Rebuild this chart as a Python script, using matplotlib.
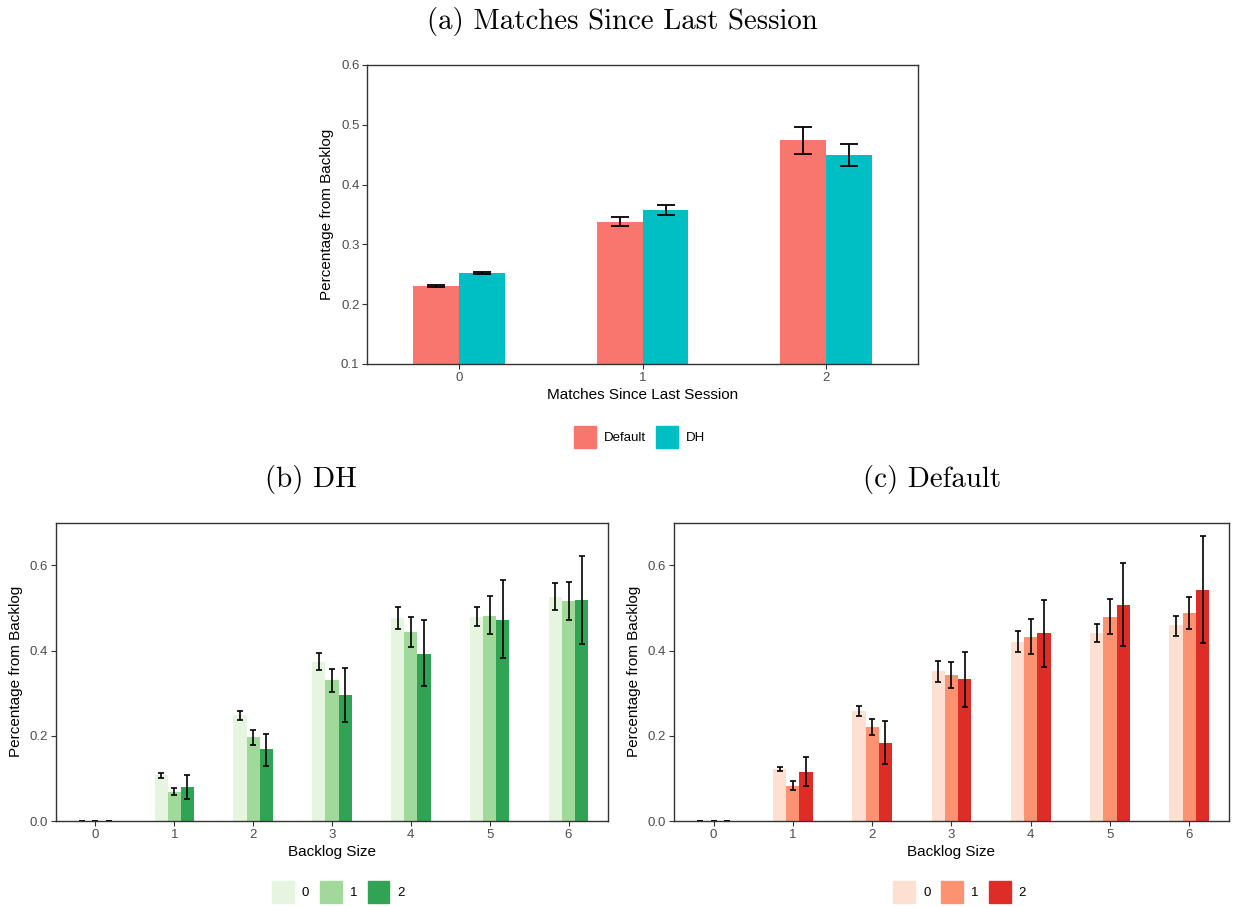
import matplotlib
matplotlib.use("Agg")
import matplotlib.pyplot as plt
from matplotlib.patches import Patch
import numpy as np

plt.rcParams['font.family'] = ['Liberation Sans', 'DejaVu Sans']

# (a) share from backlog by matches since last session
matches = ['0', '1', '2']
default_mean = [0.230, 0.337, 0.475]
default_lo = [0.228, 0.331, 0.451]
default_hi = [0.232, 0.345, 0.497]
dh_mean = [0.252, 0.358, 0.450]
dh_lo = [0.250, 0.349, 0.431]
dh_hi = [0.254, 0.365, 0.468]

# (b), (c) share from backlog by backlog size, one series per match count
backlog = ['0', '1', '2', '3', '4', '5', '6']
groups = ['0', '1', '2']

dh_vals = [
    [0.0, 0.108, 0.248, 0.374, 0.477, 0.479, 0.526],
    [0.0, 0.068, 0.196, 0.330, 0.444, 0.482, 0.517],
    [0.0, 0.080, 0.168, 0.295, 0.393, 0.472, 0.519],
]
dh_lo_b = [
    [0.0, 0.102, 0.236, 0.355, 0.450, 0.458, 0.495],
    [0.0, 0.061, 0.179, 0.302, 0.409, 0.438, 0.471],
    [0.0, 0.052, 0.130, 0.232, 0.316, 0.382, 0.416],
]
dh_hi_b = [
    [0.0, 0.112, 0.259, 0.394, 0.503, 0.503, 0.559],
    [0.0, 0.077, 0.214, 0.356, 0.478, 0.528, 0.562],
    [0.0, 0.108, 0.205, 0.359, 0.472, 0.566, 0.621],
]

def_vals = [
    [0.0, 0.122, 0.258, 0.352, 0.420, 0.441, 0.459],
    [0.0, 0.082, 0.220, 0.342, 0.431, 0.478, 0.488],
    [0.0, 0.115, 0.183, 0.333, 0.441, 0.506, 0.541],
]
def_lo_b = [
    [0.0, 0.117, 0.246, 0.327, 0.396, 0.420, 0.435],
    [0.0, 0.073, 0.201, 0.313, 0.393, 0.438, 0.451],
    [0.0, 0.082, 0.133, 0.268, 0.361, 0.410, 0.417],
]
def_hi_b = [
    [0.0, 0.127, 0.271, 0.376, 0.445, 0.463, 0.481],
    [0.0, 0.094, 0.239, 0.373, 0.473, 0.521, 0.526],
    [0.0, 0.150, 0.234, 0.396, 0.519, 0.605, 0.669],
]

top_colors = ['#F8766D', '#00BFC4']
greens = ['#E5F5E0', '#A1D99B', '#31A354']
reds = ['#FEE0D2', '#FC9272', '#DE2D26']

TICK_GREY = '#4D4D4D'
SERIF = 'cmr10'
LEGEND_KW = dict(frameon=False, fontsize=9.5, handlelength=1.65,
                 handleheight=2.2, handletextpad=0.6, columnspacing=0.8)


def style_axes(ax):
    for s in ax.spines.values():
        s.set_color('#333333')
        s.set_linewidth(1.0)
    ax.tick_params(axis='both', colors='#333333', labelcolor=TICK_GREY,
                   labelsize=9.5, length=3.5, width=0.8, pad=2)


def yerr(mean, lo, hi):
    m = np.asarray(mean)
    return np.vstack([m - np.asarray(lo), np.asarray(hi) - m])


fig = plt.figure(figsize=(12.35, 9.07), dpi=100)

# ---- (a)
ax = fig.add_axes([0.2972, 0.5987, 0.4462, 0.3297])
x = np.arange(len(matches))
w = 0.25
ax.bar(x - w / 2, default_mean, w, color=top_colors[0])
ax.bar(x + w / 2, dh_mean, w, color=top_colors[1])
ax.errorbar(x - w / 2, default_mean, yerr=yerr(default_mean, default_lo, default_hi),
            fmt='none', ecolor='black', elinewidth=1.3, capsize=6.5, capthick=1.3)
ax.errorbar(x + w / 2, dh_mean, yerr=yerr(dh_mean, dh_lo, dh_hi),
            fmt='none', ecolor='black', elinewidth=1.3, capsize=6.5, capthick=1.3)
ax.set_xlim(-0.5, 2.5)
ax.set_ylim(0.1, 0.6)
ax.set_xticks(x)
ax.set_xticklabels(matches)
ax.set_yticks([0.1, 0.2, 0.3, 0.4, 0.5, 0.6])
ax.set_xlabel('Matches Since Last Session', fontsize=11, labelpad=3)
ax.set_ylabel('Percentage from Backlog', fontsize=11, labelpad=5)
style_axes(ax)
fig.text(0.5036, 0.976, '(a) Matches Since Last Session', family=SERIF,
         fontsize=20.8, ha='center', va='center')
fig.legend(handles=[Patch(color=top_colors[0], label='Default'),
                    Patch(color=top_colors[1], label='DH')],
           loc='center', bbox_to_anchor=(0.518, 0.518), ncol=2, **LEGEND_KW)


def backlog_panel(rect, vals, lo, hi, colors, title, title_x, legend_x):
    ax = fig.add_axes(rect)
    xb = np.arange(len(backlog))
    bw = 1.0 / 6
    for i in range(len(groups)):
        pos = xb + (i - 1) * bw
        ax.bar(pos, vals[i], bw, color=colors[i])
        ax.errorbar(pos, vals[i], yerr=yerr(vals[i], lo[i], hi[i]), fmt='none',
                    ecolor='black', elinewidth=1.2, capsize=2.3, capthick=1.2)
    ax.set_xlim(-0.5, 6.5)
    ax.set_ylim(0, 0.7)
    ax.set_xticks(xb)
    ax.set_xticklabels(backlog)
    ax.set_yticks([0.0, 0.2, 0.4, 0.6])
    ax.set_xlabel('Backlog Size', fontsize=11, labelpad=3)
    ax.set_ylabel('Percentage from Backlog', fontsize=11, labelpad=5)
    style_axes(ax)
    fig.text(title_x, 0.471, title, family=SERIF, fontsize=20.8,
             ha='center', va='center')
    fig.legend(handles=[Patch(color=c, label=g) for c, g in zip(colors, groups)],
               loc='center', bbox_to_anchor=(legend_x, 0.0165), ncol=3, **LEGEND_KW)


backlog_panel([0.0453, 0.0948, 0.4470, 0.3289], dh_vals, dh_lo_b, dh_hi_b,
              greens, '(b) DH', 0.252, 0.274)
backlog_panel([0.5457, 0.0948, 0.4494, 0.3289], def_vals, def_lo_b, def_hi_b,
              reds, '(c) Default', 0.755, 0.777)

fig.savefig('out.png', dpi=100)
